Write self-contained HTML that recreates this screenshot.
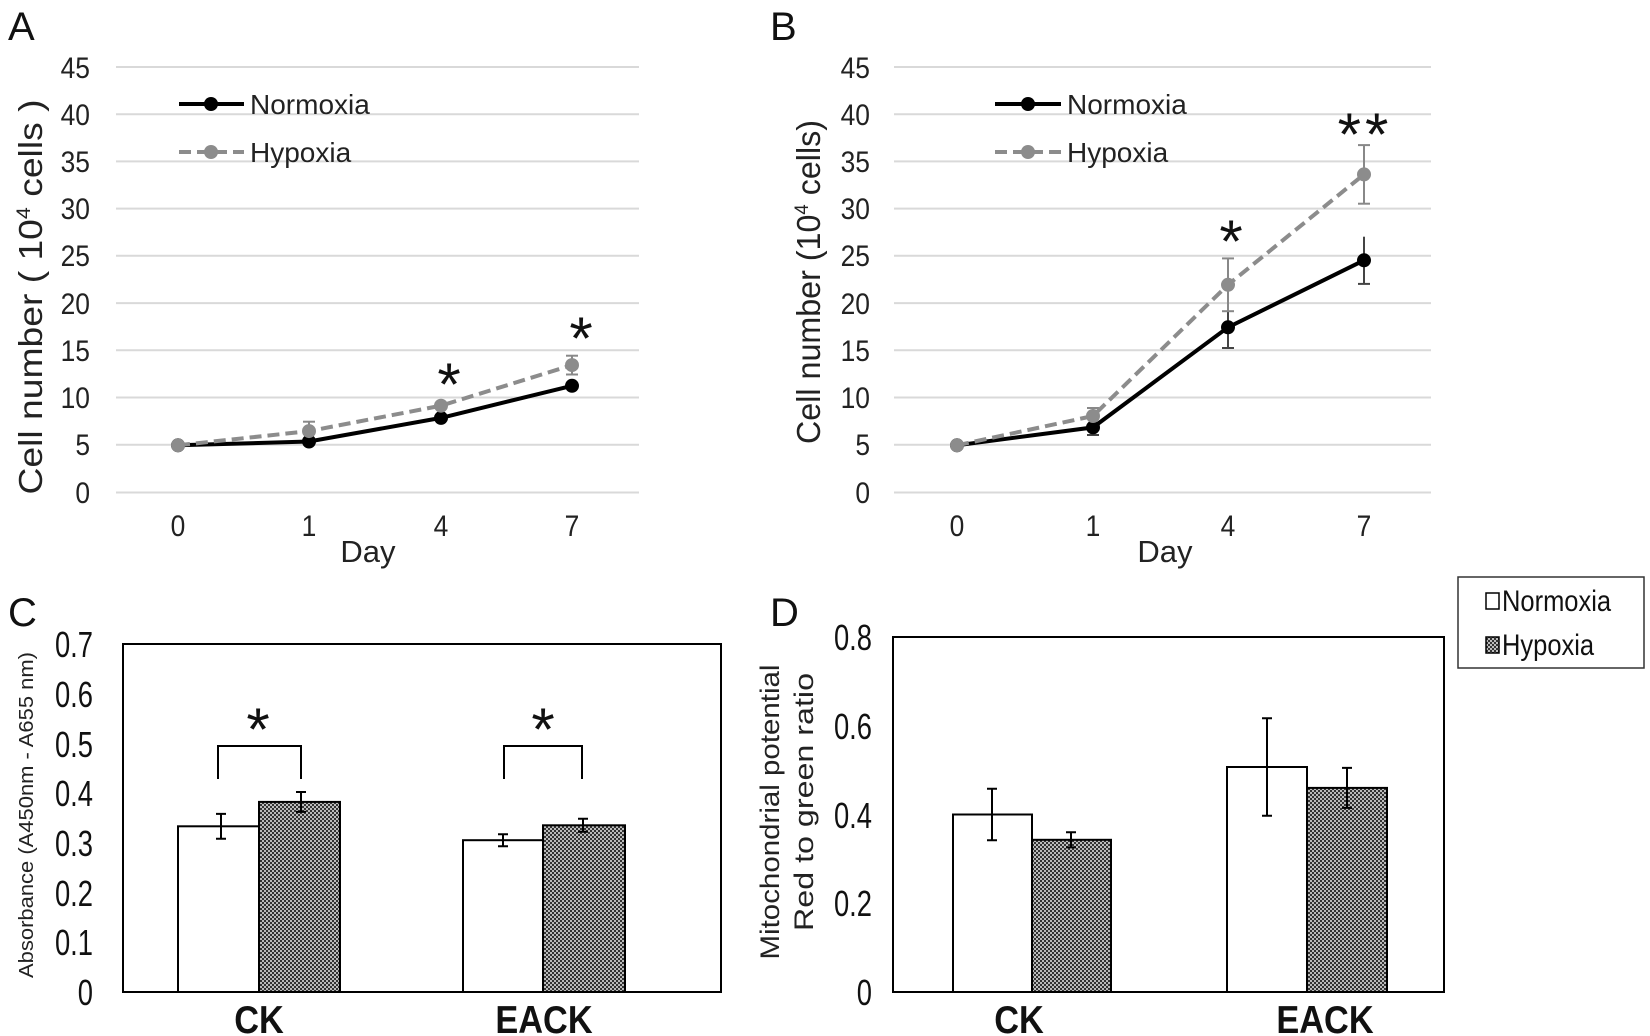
<!DOCTYPE html>
<html><head><meta charset="utf-8"><style>html,body{margin:0;padding:0;background:#fff}svg{display:block}</style></head>
<body>
<svg width="1650" height="1036" viewBox="0 0 1650 1036" xmlns="http://www.w3.org/2000/svg" font-family="Liberation Sans, Arial, sans-serif">
<defs>
<pattern id="h" width="4" height="4" patternUnits="userSpaceOnUse">
<rect width="4" height="4" fill="#bbb"/><rect width="2" height="2" fill="#333"/><rect x="2" y="2" width="2" height="2" fill="#333"/>
</pattern>
</defs>
<!-- Panel labels -->
<g font-size="40" fill="#111">
<text x="8" y="40">A</text><text x="770" y="40">B</text>
<text x="8" y="626">C</text><text x="770" y="626">D</text>
</g>

<!-- Panel A -->
<g stroke="#d9d9d9" stroke-width="2">
<line x1="116" x2="639" y1="67" y2="67"/><line x1="116" x2="639" y1="114.2" y2="114.2"/><line x1="116" x2="639" y1="161.4" y2="161.4"/><line x1="116" x2="639" y1="208.6" y2="208.6"/><line x1="116" x2="639" y1="255.8" y2="255.8"/><line x1="116" x2="639" y1="303.1" y2="303.1"/><line x1="116" x2="639" y1="350.3" y2="350.3"/><line x1="116" x2="639" y1="397.5" y2="397.5"/><line x1="116" x2="639" y1="444.7" y2="444.7"/><line x1="116" x2="639" y1="492.5" y2="492.5"/>
</g>
<g font-size="30" fill="#222" text-anchor="end">
<text transform="translate(90,78) scale(0.88,1)">45</text><text transform="translate(90,125) scale(0.88,1)">40</text><text transform="translate(90,172) scale(0.88,1)">35</text><text transform="translate(90,219) scale(0.88,1)">30</text><text transform="translate(90,266) scale(0.88,1)">25</text><text transform="translate(90,314) scale(0.88,1)">20</text><text transform="translate(90,361) scale(0.88,1)">15</text><text transform="translate(90,408) scale(0.88,1)">10</text><text transform="translate(90,455) scale(0.88,1)">5</text><text transform="translate(90,503) scale(0.88,1)">0</text>
</g>
<g font-size="30" fill="#222" text-anchor="middle">
<text transform="translate(178,536) scale(0.88,1)">0</text><text transform="translate(309,536) scale(0.88,1)">1</text><text transform="translate(441,536) scale(0.88,1)">4</text><text transform="translate(572,536) scale(0.88,1)">7</text>
<text x="368" y="562" font-size="31">Day</text>
</g>
<text transform="translate(42,297) rotate(-90)" font-size="33" fill="#222" text-anchor="middle" textLength="395" lengthAdjust="spacingAndGlyphs">Cell number ( 10<tspan font-size="19" dy="-12">4</tspan><tspan dy="12"> cells )</tspan></text>
<g stroke="#888" stroke-width="2"><line x1="309" x2="309" y1="421.7" y2="440.5"/><line x1="303" x2="315" y1="421.7" y2="421.7"/><line x1="572" x2="572" y1="355.7" y2="374.5"/><line x1="566" x2="578" y1="355.7" y2="355.7"/><line x1="566" x2="578" y1="374.5" y2="374.5"/></g>
<polyline points="178,445.3 309,441.5 441,417.9 572,385.8" fill="none" stroke="#000" stroke-width="4"/>
<g fill="#000"><circle cx="178" cy="445.3" r="7"/><circle cx="309" cy="441.5" r="7"/><circle cx="441" cy="417.9" r="7"/><circle cx="572" cy="385.8" r="7"/></g>
<polyline points="178,445.3 309,431.1 441,405.7 572,365.1" fill="none" stroke="#8c8c8c" stroke-width="4" stroke-dasharray="12,6"/>
<g fill="#8c8c8c"><circle cx="178" cy="445.3" r="7"/><circle cx="309" cy="431.1" r="7"/><circle cx="441" cy="405.7" r="7"/><circle cx="572" cy="365.1" r="7"/></g>
<g font-size="60" fill="#111" text-anchor="middle"><text x="449" y="405">*</text><text x="581" y="359">*</text></g>
<line x1="179" x2="244" y1="104" y2="104" stroke="#000" stroke-width="4"/><circle cx="211" cy="104" r="7"/>
<line x1="179" x2="244" y1="152" y2="152" stroke="#8c8c8c" stroke-width="4" stroke-dasharray="12,6"/><circle cx="211" cy="152" r="7" fill="#8c8c8c"/>
<g font-size="28" fill="#222"><text x="250" y="114">Normoxia</text><text x="250" y="162">Hypoxia</text></g>

<!-- Panel B -->
<g stroke="#d9d9d9" stroke-width="2">
<line x1="894" x2="1431" y1="67" y2="67"/><line x1="894" x2="1431" y1="114.2" y2="114.2"/><line x1="894" x2="1431" y1="161.4" y2="161.4"/><line x1="894" x2="1431" y1="208.6" y2="208.6"/><line x1="894" x2="1431" y1="255.8" y2="255.8"/><line x1="894" x2="1431" y1="303.1" y2="303.1"/><line x1="894" x2="1431" y1="350.3" y2="350.3"/><line x1="894" x2="1431" y1="397.5" y2="397.5"/><line x1="894" x2="1431" y1="444.7" y2="444.7"/><line x1="894" x2="1431" y1="492.5" y2="492.5"/>
</g>
<g font-size="30" fill="#222" text-anchor="end">
<text transform="translate(870,78) scale(0.88,1)">45</text><text transform="translate(870,125) scale(0.88,1)">40</text><text transform="translate(870,172) scale(0.88,1)">35</text><text transform="translate(870,219) scale(0.88,1)">30</text><text transform="translate(870,266) scale(0.88,1)">25</text><text transform="translate(870,314) scale(0.88,1)">20</text><text transform="translate(870,361) scale(0.88,1)">15</text><text transform="translate(870,408) scale(0.88,1)">10</text><text transform="translate(870,455) scale(0.88,1)">5</text><text transform="translate(870,503) scale(0.88,1)">0</text>
</g>
<g font-size="30" fill="#222" text-anchor="middle">
<text transform="translate(957,536) scale(0.88,1)">0</text><text transform="translate(1093,536) scale(0.88,1)">1</text><text transform="translate(1228,536) scale(0.88,1)">4</text><text transform="translate(1364,536) scale(0.88,1)">7</text>
<text x="1165" y="562" font-size="31">Day</text>
</g>
<text transform="translate(820,282) rotate(-90)" font-size="33" fill="#222" text-anchor="middle" textLength="324" lengthAdjust="spacingAndGlyphs">Cell number (10<tspan font-size="19" dy="-12">4</tspan><tspan dy="12"> cells)</tspan></text>
<g stroke="#444" stroke-width="2">
<line x1="1093" x2="1093" y1="419.8" y2="435"/><line x1="1087" x2="1099" y1="435" y2="435"/>
<line x1="1228" x2="1228" y1="306.5" y2="348"/><line x1="1222" x2="1234" y1="348" y2="348"/>
<line x1="1364" x2="1364" y1="236.7" y2="283.9"/><line x1="1358" x2="1370" y1="283.9" y2="283.9"/>
</g>
<g stroke="#888" stroke-width="2">
<line x1="1093" x2="1093" y1="408" y2="424"/><line x1="1087" x2="1099" y1="408" y2="408"/>
<line x1="1228" x2="1228" y1="258.4" y2="311.2"/><line x1="1222" x2="1234" y1="258.4" y2="258.4"/><line x1="1222" x2="1234" y1="311.2" y2="311.2"/>
<line x1="1364" x2="1364" y1="145.1" y2="203.7"/><line x1="1358" x2="1370" y1="145.1" y2="145.1"/><line x1="1358" x2="1370" y1="203.7" y2="203.7"/>
</g>
<polyline points="957,445.3 1093,427.4 1228,327.3 1364,260.3" fill="none" stroke="#000" stroke-width="4"/>
<g fill="#000"><circle cx="957" cy="445.3" r="7"/><circle cx="1093" cy="427.4" r="7"/><circle cx="1228" cy="327.3" r="7"/><circle cx="1364" cy="260.3" r="7"/></g>
<polyline points="957,445.3 1093,416 1228,284.8 1364,174.4" fill="none" stroke="#8c8c8c" stroke-width="4" stroke-dasharray="12,6"/>
<g fill="#8c8c8c"><circle cx="957" cy="445.3" r="7"/><circle cx="1093" cy="416" r="7"/><circle cx="1228" cy="284.8" r="7"/><circle cx="1364" cy="174.4" r="7"/></g>
<g font-size="60" fill="#111" text-anchor="middle"><text x="1231" y="262">*</text><text x="1365" y="155" letter-spacing="4">**</text></g>
<line x1="995" x2="1061" y1="104" y2="104" stroke="#000" stroke-width="4"/><circle cx="1028" cy="104" r="7"/>
<line x1="995" x2="1061" y1="152" y2="152" stroke="#8c8c8c" stroke-width="4" stroke-dasharray="12,6"/><circle cx="1028" cy="152" r="7" fill="#8c8c8c"/>
<g font-size="28" fill="#222"><text x="1067" y="114">Normoxia</text><text x="1067" y="162">Hypoxia</text></g>

<!-- Panel C -->
<rect x="123" y="644" width="598" height="348" fill="none" stroke="#000" stroke-width="2"/>
<g font-size="36" fill="#111" text-anchor="end">
<text transform="translate(93,657) scale(0.76,1)">0.7</text><text transform="translate(93,707) scale(0.76,1)">0.6</text><text transform="translate(93,757) scale(0.76,1)">0.5</text><text transform="translate(93,806) scale(0.76,1)">0.4</text><text transform="translate(93,856) scale(0.76,1)">0.3</text><text transform="translate(93,906) scale(0.76,1)">0.2</text><text transform="translate(93,955) scale(0.76,1)">0.1</text><text transform="translate(93,1005) scale(0.76,1)">0</text>
</g>
<text transform="translate(33,815) rotate(-90)" font-size="20" fill="#222" text-anchor="middle" textLength="326" lengthAdjust="spacingAndGlyphs">Absorbance (A450nm - A655 nm)</text>
<g stroke="#000" stroke-width="2">
<rect x="178" y="826.3" width="81" height="165.7" fill="#fff"/><rect x="259" y="801.9" width="81" height="190.1" fill="url(#h)"/>
<rect x="463" y="840.2" width="80" height="151.8" fill="#fff"/><rect x="543" y="825.3" width="82" height="166.7" fill="url(#h)"/>
<path d="M221,813.9V838.8M216,813.9H226M216,838.8H226 M301,792V811.9M296,792H306M296,811.9H306 M503,834.2V846.2M498,834.2H508M498,846.2H508 M583,818.8V831.8M578,818.8H588M578,831.8H588" fill="none"/>
<path d="M218,779V746H301V779 M504,779V746H582V779" fill="none"/>
</g>
<g font-size="60" fill="#111" text-anchor="middle"><text x="258" y="750">*</text><text x="543" y="750">*</text></g>
<g font-size="39" font-weight="bold" fill="#111" text-anchor="middle"><text transform="translate(259,1033) scale(0.88,1)">CK</text><text transform="translate(544,1033) scale(0.88,1)">EACK</text></g>

<!-- Panel D -->
<rect x="893" y="637" width="551" height="355" fill="none" stroke="#000" stroke-width="2"/>
<g font-size="36" fill="#111" text-anchor="end">
<text transform="translate(872,650) scale(0.76,1)">0.8</text><text transform="translate(872,739) scale(0.76,1)">0.6</text><text transform="translate(872,828) scale(0.76,1)">0.4</text><text transform="translate(872,916) scale(0.76,1)">0.2</text><text transform="translate(872,1005) scale(0.76,1)">0</text>
</g>
<g font-size="27" fill="#222" text-anchor="middle">
<text transform="translate(779,812) rotate(-90)" textLength="295" lengthAdjust="spacingAndGlyphs">Mitochondrial potential</text>
<text transform="translate(813,802) rotate(-90)" textLength="258" lengthAdjust="spacingAndGlyphs">Red to green ratio</text>
</g>
<g stroke="#000" stroke-width="2">
<rect x="953" y="814.5" width="79" height="177.5" fill="#fff"/><rect x="1032" y="839.8" width="79" height="152.2" fill="url(#h)"/>
<rect x="1227" y="767" width="80" height="225" fill="#fff"/><rect x="1307" y="787.9" width="80" height="204.1" fill="url(#h)"/>
<path d="M992,788.8V840.2M987,788.8H997M987,840.2H997 M1071,832.3V847.4M1066,832.3H1076M1066,847.4H1076 M1267,718.2V815.8M1262,718.2H1272M1262,815.8H1272 M1347,767.9V807.9M1342,767.9H1352M1342,807.9H1352" fill="none"/>
</g>
<g font-size="39" font-weight="bold" fill="#111" text-anchor="middle"><text transform="translate(1019,1033) scale(0.88,1)">CK</text><text transform="translate(1325,1033) scale(0.88,1)">EACK</text></g>
<rect x="1458" y="577" width="186" height="91" fill="#fff" stroke="#333" stroke-width="1.5"/>
<rect x="1486" y="593" width="13" height="16" fill="#fff" stroke="#000" stroke-width="1.5"/>
<rect x="1486" y="637" width="13" height="16" fill="url(#h)" stroke="#000" stroke-width="1.5"/>
<g font-size="30" fill="#111"><text transform="translate(1502,611) scale(0.85,1)">Normoxia</text><text transform="translate(1502,655) scale(0.85,1)">Hypoxia</text></g>
</svg>
</body></html>
